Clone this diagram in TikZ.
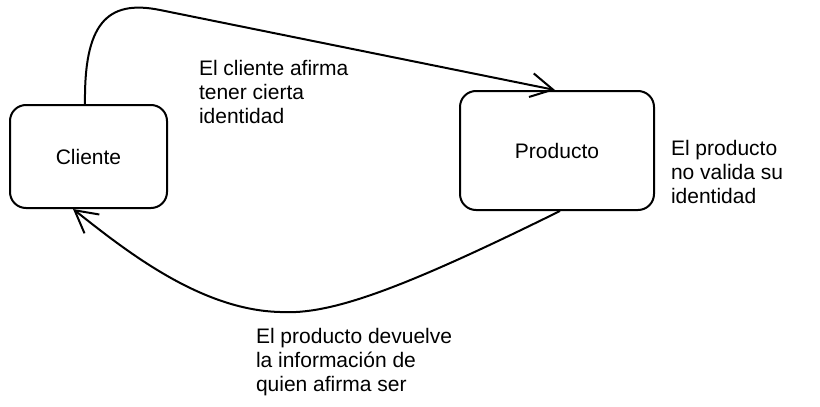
\documentclass[tikz,border=0pt]{standalone}
\usepackage{fontspec}
\setmainfont{Liberation Sans}
\usetikzlibrary{arrows.meta}

\begin{document}
\begin{tikzpicture}[x=1pt, y=-1pt, line width=2pt,
  every node/.style={font=\fontsize{21}{24}\selectfont},
  caja/.style={draw, rounded corners=16pt},
  nota/.style={anchor=north west, align=left, inner sep=0pt},
  >={Straight Barb[length=22pt,width=24pt]}]
  \useasboundingbox (0,0) rectangle (820,407);
  \node[caja, minimum width=157pt, minimum height=103pt] (cliente) at (88.5,156.5) {Cliente};
  \node[caja, minimum width=194pt, minimum height=119pt] (producto) at (557,150.5) {Producto};
  % notas
  \node[nota] (afirma) at (198,59) {El cliente afirma\\tener cierta\\identidad};
  \node[nota] (valida) at (670,139) {El producto\\no valida su\\identidad};
  \node[nota] (devuelve) at (255,327) {El producto devuelve\\la información de\\quien afirma ser};
  % flechas
  \draw[->] ([xshift=-3.5pt]cliente.north) .. controls (84,25) and (106,-1) .. (160,10) -- ([xshift=-2pt]producto.north);
  \draw[->] ([xshift=3pt]producto.south) .. controls (400,290) and (330,315) .. (280,312)
    .. controls (200,310) and (125,250) .. ([xshift=-15.5pt]cliente.south);
\end{tikzpicture}
\end{document}
